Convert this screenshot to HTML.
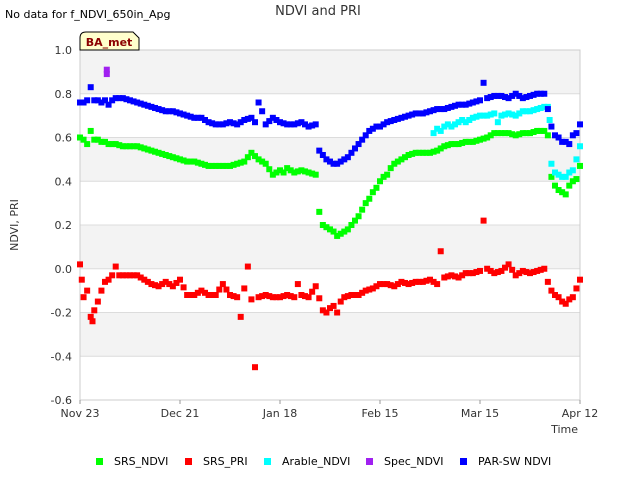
<!DOCTYPE html>
<html><head><meta charset="utf-8"><style>
body{margin:0;background:#fff;font-family:"Liberation Sans","DejaVu Sans",sans-serif}
svg text{font-family:"DejaVu Sans","Liberation Sans",sans-serif}
</style></head><body>
<svg id="c" width="640" height="480" xmlns="http://www.w3.org/2000/svg">
<rect width="640" height="480" fill="#fff"/>
<g id="bands"></g>
<text x="5" y="18" font-size="11" fill="#000">No data for f_NDVI_650in_Apg</text>
<text x="318" y="15" font-size="13" fill="#333" text-anchor="middle">NDVI and PRI</text>
<text x="18" y="225" font-size="11" fill="#333" text-anchor="middle" transform="rotate(-90 18 225)">NDVI, PRI</text>
<text x="578" y="433" font-size="11" fill="#333" text-anchor="end">Time</text>
<g id="yt"></g><g id="xt"></g>
<g id="marks"></g>
<g>
<path d="M80,50 L80,38 Q80,32 86,32 L133,32 L139,38 L139,50 Z" fill="#ffffcc" stroke="#000" stroke-width="1"/>
<text x="109" y="46" font-size="11" font-weight="bold" fill="#8b0000" text-anchor="middle">BA_met</text>
</g>
<g id="legend"></g>
</svg>
<script>
const yTicks=[-0.6,-0.4,-0.2,0.0,0.2,0.4,0.6,0.8,1.0];
const xTickLabels=["Nov 23","Dec 21","Jan 18","Feb 15","Mar 15","Apr 12"];
const xTickDays=[0,28,56,84,112,140];
const ndviDays=[0,1,2,3,4,5,6,7,8,10,12,14,16,18,20,22,24,26,28,30,32,34,36,38,40,42,44,46,48,50,51,52,54,56,57,58,60,62,64,66,67,68,69,70,71,72,73,74,75,76,77,78,79,80,81,82,83,84,85,86,87,88,89,90,92,94,96,98,100,102,104,106,108,110,112,114,116,118,120,122,124,126,128,130,131,132,133,134,135,136,137,138,139,140];
const ndviVals=[0.60,0.59,0.57,0.63,0.59,0.59,0.58,0.58,0.57,0.57,0.56,0.56,0.56,0.55,0.54,0.53,0.52,0.51,0.50,0.49,0.49,0.48,0.47,0.47,0.47,0.47,0.48,0.49,0.53,0.50,0.49,0.48,0.43,0.45,0.44,0.46,0.44,0.45,0.44,0.43,0.26,0.20,0.19,0.18,0.17,0.15,0.16,0.17,0.18,0.20,0.22,0.24,0.27,0.30,0.32,0.35,0.37,0.40,0.42,0.43,0.46,0.48,0.49,0.50,0.52,0.53,0.53,0.53,0.54,0.56,0.57,0.57,0.58,0.58,0.59,0.60,0.62,0.62,0.62,0.61,0.62,0.62,0.63,0.63,0.61,0.42,0.38,0.36,0.35,0.34,0.38,0.40,0.41,0.47];
const priDays=[0,0.5,1,2,3,3.5,4,5,6,7,8,9,10,11,12,14,16,18,20,22,24,26,28,30,32,34,36,38,40,42,44,45,46,47,48,49,50,52,54,56,58,60,61,62,64,66,68,69,70,71,72,73,74,76,78,80,82,84,86,88,90,92,94,96,98,100,101,102,104,106,108,110,112,113,114,116,118,120,122,124,126,128,130,131,132,133,134,135,136,137,138,139,140];
const priVals=[0.02,-0.05,-0.13,-0.10,-0.22,-0.24,-0.19,-0.15,-0.10,-0.06,-0.05,-0.03,0.01,-0.03,-0.03,-0.03,-0.03,-0.05,-0.07,-0.08,-0.06,-0.08,-0.05,-0.12,-0.12,-0.10,-0.12,-0.12,-0.07,-0.12,-0.13,-0.22,-0.09,0.01,-0.14,-0.45,-0.13,-0.12,-0.13,-0.13,-0.12,-0.13,-0.07,-0.12,-0.13,-0.08,-0.19,-0.20,-0.18,-0.17,-0.20,-0.15,-0.13,-0.12,-0.12,-0.10,-0.09,-0.07,-0.07,-0.08,-0.06,-0.07,-0.06,-0.06,-0.05,-0.07,0.08,-0.04,-0.03,-0.04,-0.02,-0.02,-0.01,0.22,0.0,-0.02,-0.01,0.02,-0.03,-0.01,-0.02,-0.01,0.0,-0.06,-0.10,-0.12,-0.13,-0.15,-0.16,-0.14,-0.13,-0.09,-0.05,-0.04];
const arableDays=[99,100,101,102,103,104,105,106,107,108,110,112,114,116,117,118,120,122,124,126,128,130,131,131.5,132,133,134,135,136,137,138,139,140];
const arableVals=[0.62,0.64,0.63,0.65,0.66,0.65,0.66,0.67,0.68,0.67,0.69,0.70,0.70,0.71,0.67,0.70,0.71,0.70,0.72,0.72,0.73,0.74,0.74,0.68,0.48,0.44,0.43,0.42,0.42,0.44,0.45,0.50,0.56];
const specDays=[7.5,7.5];
const specVals=[0.89,0.91];
const parDays=[0,1,2,3,4,5,6,7,8,9,10,11,12,14,16,18,20,22,24,26,28,30,32,34,36,38,40,42,44,46,48,49,50,51,52,54,56,58,60,62,64,66,67,68,69,70,71,72,73,74,75,76,77,78,79,80,81,82,83,84,85,86,88,90,92,94,96,98,100,102,104,106,108,110,112,113,114,116,118,120,122,124,126,128,130,131,132,133,134,135,136,137,138,139,140];
const parVals=[0.76,0.76,0.77,0.83,0.77,0.77,0.76,0.77,0.75,0.77,0.78,0.78,0.78,0.77,0.76,0.75,0.74,0.73,0.72,0.72,0.71,0.70,0.69,0.69,0.67,0.66,0.66,0.67,0.66,0.68,0.69,0.67,0.76,0.72,0.66,0.69,0.67,0.66,0.66,0.67,0.65,0.66,0.54,0.52,0.50,0.49,0.48,0.48,0.49,0.50,0.51,0.53,0.55,0.57,0.59,0.61,0.63,0.64,0.65,0.65,0.66,0.67,0.68,0.69,0.70,0.71,0.71,0.72,0.73,0.73,0.74,0.75,0.75,0.76,0.77,0.85,0.78,0.79,0.79,0.78,0.80,0.78,0.79,0.80,0.80,0.73,0.65,0.61,0.60,0.58,0.58,0.57,0.61,0.62,0.66];

const NS="http://www.w3.org/2000/svg";
const L=80,R=580,T=50,B=400;
function xs(d){return L+d*(R-L)/140;}
function ys(v){return T+(1.0-v)*(B-T)/1.6;}
function mk(tag,attrs,parent){const e=document.createElementNS(NS,tag);for(const k in attrs)e.setAttribute(k,attrs[k]);parent.appendChild(e);return e;}
const bands=document.getElementById('bands');
for(let i=0;i<yTicks.length-1;i++){
  const lo=yTicks[i],hi=yTicks[i+1];
  const r=mk('rect',{x:L,y:ys(hi),width:R-L,height:ys(lo)-ys(hi),fill:(i%2===1)?'#f3f3f3':'#ffffff'},bands);
  
  
}
for(const t of yTicks){
  const ln=mk('line',{x1:L,x2:R,y1:ys(t),y2:ys(t),stroke:'#dcdcdc','stroke-width':1},bands);
  
  
}
mk('rect',{x:L,y:T,width:R-L,height:B-T,fill:'none',stroke:'#cccccc'},bands);
const yt=document.getElementById('yt');
for(const t of yTicks){
  const tx=mk('text',{x:L-8,y:ys(t)+4,'font-size':11,fill:'#333','text-anchor':'end'},yt);
  tx.textContent=t.toFixed(1);
  
  
}
const xt=document.getElementById('xt');
xTickDays.forEach((d,i)=>{
  mk('line',{x1:xs(d),x2:xs(d),y1:B,y2:B+4,stroke:'#999'},xt);
  const tx=mk('text',{x:xs(d),y:B+17,'font-size':11,fill:'#333','text-anchor':'middle'},xt);
  tx.textContent=xTickLabels[i];
  
  
});
const marks=document.getElementById('marks');
function series(days,vals,color,name){
  const g=mk('g',{},marks);
  
  
  days.forEach((d,i)=>{
    const r=mk('rect',{x:xs(d)-3,y:ys(vals[i])-3,width:6,height:6,fill:color},g);
    
    
    if(i+1<days.length && days[i+1]-d>1.2){
      const r2=mk('rect',{x:xs(d+1)-3,y:ys((vals[i]+vals[i+1])/2)-3,width:6,height:6,fill:color},g);
      
      
    }
  });
}
series(ndviDays,ndviVals,'#00ff00','srs-ndvi-series');
series(priDays,priVals,'#ff0000','srs-pri-series');
series(arableDays,arableVals,'#00ffff','arable-ndvi-series');
series(specDays,specVals,'#a020f0','spec-ndvi-series');
series(parDays,parVals,'#0000ff','par-sw-ndvi-series');
const lg=document.getElementById('legend');
const items=[['SRS_NDVI','#00ff00',99],['SRS_PRI','#ff0000',188],['Arable_NDVI','#00ffff',267],['Spec_NDVI','#a020f0',369],['PAR-SW NDVI','#0000ff',463]];
for(const [n,c,x] of items){
  const g=mk('g',{},lg);
  
  
  mk('rect',{x:x-3,y:458,width:7,height:7,fill:c},g);
  const t=mk('text',{x:x+15,y:465,'font-size':11,fill:'#000'},g);
  t.textContent=n;
}
</script>
</body></html>
